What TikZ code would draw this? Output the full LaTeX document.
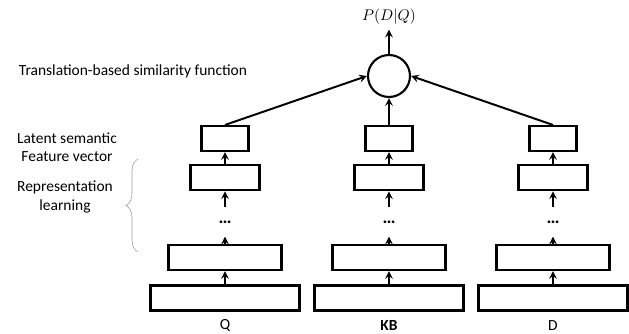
\documentclass[tikz,border=0pt]{standalone}
\usepackage{fontspec}
\setmainfont{Carlito}
\usepackage{tikz}
\usetikzlibrary{decorations.pathreplacing}
\tikzset{>=stealth}
\tikzset{layer/.style={draw, line width=1.5pt, minimum height=0.625cm, inner sep=0pt},
  link/.style={->, line width=1.4pt},
  gap/.style={minimum height=0.72cm, inner sep=0pt, font=\fontsize{13}{13}\selectfont\bfseries}}

\begin{document}
\begin{tikzpicture}[font=\fontsize{11}{13}\selectfont]
        \useasboundingbox(0,0) rectangle (15.725,8.35);
        % similarity function
        \node[draw, circle, line width=1.5pt, minimum size=1.05cm, inner sep=0pt] (sim) at (9.725,6.45) {};
        \path(9.725,7.925) node (pdq) {$P(D|Q)$};
        \draw[link](sim) -- (pdq);
        % left labels
        \path(3.325,6.575) node (simtext) {Translation-based similarity function};
        \path(1.675,4.675) node[align=center] (lstext) {Latent semantic\\Feature vector};
        \path(1.625,3.425) node[align=center] (reptext) {Representation\\learning};
        \draw[gray!80, decorate, decoration={brace, amplitude=0.3cm}](3.45,2.05) -- (3.45,4.375);
        \begin{scope}[xshift=5.625cm]
          \node[layer, minimum width=3.725cm] (q1) at (0,0.9) {};
          \node[layer, minimum width=2.825cm] (q2) at (0,1.9125) {};
          \node[gap] (qdots) at (0,2.8) {\dots};
          \node[layer, minimum width=1.725cm] (q3) at (0,3.906) {};
          \node[layer, minimum width=1.175cm] (q4) at (0,4.8875) {};
          \path(0,0.22) node (qname) {Q};
        \end{scope}
        \begin{scope}[xshift=9.725cm]
          \node[layer, minimum width=3.725cm] (kb1) at (0,0.9) {};
          \node[layer, minimum width=2.825cm] (kb2) at (0,1.9125) {};
          \node[gap] (kbdots) at (0,2.8) {\dots};
          \node[layer, minimum width=1.725cm] (kb3) at (0,3.906) {};
          \node[layer, minimum width=1.175cm] (kb4) at (0,4.8875) {};
          \path(0,0.22) node (kbname) {\textbf{KB}};
        \end{scope}
        \begin{scope}[xshift=13.825cm]
          \node[layer, minimum width=3.725cm] (d1) at (0,0.9) {};
          \node[layer, minimum width=2.825cm] (d2) at (0,1.9125) {};
          \node[gap] (ddots) at (0,2.8) {\dots};
          \node[layer, minimum width=1.725cm] (d3) at (0,3.906) {};
          \node[layer, minimum width=1.175cm] (d4) at (0,4.8875) {};
          \path(0,0.22) node (dname) {D};
        \end{scope}
        % arrows up the stacks
        \draw[link](q1.north) -- (q2.south);
        \draw[link](q2.north) -- (qdots.south);
        \draw[link](qdots.north) -- (q3.south);
        \draw[link](q3.north) -- (q4.south);
        \draw[link](kb1.north) -- (kb2.south);
        \draw[link](kb2.north) -- (kbdots.south);
        \draw[link](kbdots.north) -- (kb3.south);
        \draw[link](kb3.north) -- (kb4.south);
        \draw[link](d1.north) -- (d2.south);
        \draw[link](d2.north) -- (ddots.south);
        \draw[link](ddots.north) -- (d3.south);
        \draw[link](d3.north) -- (d4.south);
        % into the similarity function
        \draw[link](q4.north) -- (sim.west);
        \draw[link](kb4.north) -- (sim.south);
        \draw[link](d4.north) -- (sim.east);
      \end{tikzpicture}
\end{document}
